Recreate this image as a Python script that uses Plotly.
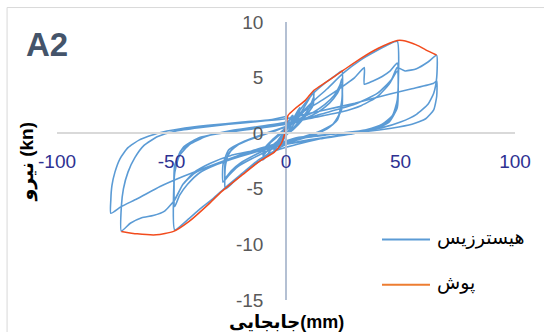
import plotly.graph_objects as go

# Axis ticks
x_ticks = [-100, -50, 0, 50, 100]
x_tick_labels = ["-100", "-50", "0", "50", "100"]
y_ticks = [-15, -10, -5, 0, 5, 10]
y_tick_labels = ["-15", "-10", "-5", "0", "5", "10"]

# Series names
series_names = ["هیسترزیس", "پوش"]

# Cyclic (hysteresis) response: displacement (mm) and force (kN), cycle by cycle
hyst_disp = [
    # cycle 1
    0, 1, 2, 3, 2.8, 1.5, 0, -1.5, -3, -2.8, -1.5, 0,
    # cycle 2
    2, 4, 6, 5.7, 4, 1, -2, -4, -5.2, -4.9, -3, 0,
    # cycle 3
    3, 6, 9, 12.2, 11.8, 9, 5, 0, -4, -7, -10, -9.6, -7, -3, 0,
    # cycle 4
    4, 8, 11, 12.2, 11.8, 8, 3, -3, -7, -10, -9.6, -6, 0,
    # cycle 5
    4, 8, 12, 17, 21, 24.4, 24.4, 23, 20, 14, 6, 0, -5, -10, -15, -20, -24, -26.5,
    -26.5, -25, -20, -12, -5, 0,
    # cycle 6
    6, 12, 17, 21, 23.5, 24.4, 24.4, 22.5, 18, 10, 0, -8, -15, -21, -25, -27.5,
    -27.5, -25, -18, -10, 0,
    # cycle 7
    7, 14, 19, 22.5, 24.4, 24.4, 21, 14, 5, -5, -13, -20, -24, -26.5,
    -26.5, -23, -15, -5, 0,
    # cycle 8
    6, 12, 18, 25, 32.7, 40.3, 45, 48.6, 48.6, 46.5, 42, 35, 25, 15, 5, -5, -12, -19,
    -26, -32, -38, -43, -48.6, -48.6, -46.5, -42, -35, -25, -12, 0,
    # cycle 9
    8, 16, 24, 30, 34.2, 34.2, 38, 42, 45.5, 48.6, 48.6, 46, 40, 30, 20, 10, 0, -10,
    -20, -30, -38, -43, -46.5, -48.6, -48.6, -46, -40, -30, -15, 0,
    # cycle 10
    12, 24, 33, 40, 45, 48.6, 48.6, 45, 38, 28, 15, 0, -12, -24, -33, -40, -45, -48.6,
    -48.6, -45, -38, -25, -10, 0,
    # cycle 11
    15, 30, 40, 46, 48.6, 52, 57, 62, 65.8, 65.8, 64.5, 62, 57, 50, 42, 32, 20, 8, 0,
    -10, -20, -30, -40, -45, -48.6, -53, -58, -63, -68, -71.9,
    -71.9, -71, -69, -66, -62, -56, -48, -38, -25, -10, 0,
    # cycle 12
    15, 30, 45, 55, 64.5, 65.8, 65.8, 64.5, 61, 55, 46, 35, 20, 5, 0, -15, -30, -45,
    -55, -65, -72, -76.5, -76.5, -76, -74.7, -72.5, -69, -64, -56, -46, -34, -19, -7, 0,
]
hyst_force = [
    # cycle 1
    0, 0.9, 1.4, 1.6, 1.1, 0.4, -0.2, -0.7, -1.1, -0.7, -0.3, 0.2,
    # cycle 2
    0.8, 1.6, 2.3, 1.7, 1.0, 0.1, -0.6, -1.2, -1.7, -1.1, -0.5, 0.3,
    # cycle 3
    1.0, 1.7, 2.7, 3.8, 2.9, 1.9, 0.9, -0.2, -0.9, -1.6, -2.4, -1.7, -0.9, -0.2, 0.4,
    # cycle 4
    1.1, 2.0, 2.7, 3.3, 2.5, 1.4, 0.3, -0.6, -1.3, -2.0, -1.4, -0.6, 0.5,
    # cycle 5
    1.5, 2.6, 3.6, 4.5, 5.1, 5.6, 3.0, 1.6, 0.7, 0.1, -0.5, -1.0, -1.6, -2.3, -3.0, -3.8, -4.6, -5.0,
    -3.0, -1.8, -0.9, -0.3, 0.2, 0.6,
    # cycle 6
    1.3, 1.9, 2.6, 3.4, 4.3, 4.9, 2.6, 1.2, 0.4, -0.3, -0.9, -1.6, -2.3, -3.0, -3.8, -4.4,
    -2.8, -1.5, -0.7, -0.1, 0.6,
    # cycle 7
    1.2, 1.9, 2.7, 3.6, 4.4, 2.2, 0.9, 0.1, -0.5, -1.1, -1.9, -2.7, -3.4, -4.0,
    -2.5, -1.3, -0.5, 0.2, 0.6,
    # cycle 8
    1.7, 2.9, 4.0, 5.4, 6.6, 7.5, 8.0, 8.25, 3.0, 1.6, 0.8, 0.3, -0.1, -0.5, -1.0, -1.6, -2.4, -3.6,
    -4.8, -5.9, -6.9, -7.8, -8.7, -3.6, -2.0, -1.0, -0.3, 0.2, 0.6, 1.0,
    # cycle 9
    2.0, 3.0, 4.1, 5.0, 5.9, 4.4, 4.7, 5.1, 5.6, 6.3, 2.6, 1.3, 0.5, 0.0, -0.3, -0.6, -1.0, -1.5,
    -2.1, -2.8, -3.6, -4.6, -5.6, -6.6, -3.2, -1.6, -0.6, 0.0, 0.4, 0.9,
    # cycle 10
    1.4, 1.9, 2.5, 3.3, 4.4, 5.6, 2.3, 1.0, 0.3, -0.1, -0.5, -1.0, -1.5, -2.0, -2.7, -3.5, -4.6, -5.9,
    -2.9, -1.3, -0.4, 0.1, 0.5, 0.8,
    # cycle 11
    1.7, 2.6, 3.6, 4.8, 5.9, 5.6, 5.8, 6.4, 7.0, 5.0, 3.6, 2.6, 1.7, 1.0, 0.5, 0.2, -0.1, -0.4, -0.7,
    -1.3, -2.0, -2.7, -3.6, -4.6, -6.0, -7.0, -7.4, -7.6, -8.1, -8.8,
    -6.6, -5.0, -3.5, -2.2, -1.1, -0.3, 0.2, 0.5, 0.8, 1.1, 1.3,
    # cycle 12
    2.0, 2.7, 3.5, 4.0, 4.5, 4.7, 3.3, 2.1, 1.3, 0.8, 0.45, 0.15, -0.1, -0.4, -0.7, -1.6, -2.7, -3.9,
    -4.8, -5.9, -6.6, -7.2, -6.0, -4.7, -3.5, -2.3, -1.3, -0.6, 0.0, 0.4, 0.7, 1.0, 1.2, 1.5,
]

# Backbone (envelope) curve
env_disp = [-71.9, -65, -56.7, -49.1, -42.3, -34.0, -27.9, -18.8, -11.3, -5.2, -2.2, -0.6,
            0.9, 3.9, 8.4, 12.2, 17.5, 25.1, 32.7, 40.3, 48.6, 50.9, 56.9, 61, 65.7]
env_force = [-8.83, -9.05, -9.14, -8.83, -7.93, -6.42, -5.21, -3.7, -2.49, -1.73, -0.98, -0.07,
             1.6, 2.2, 2.95, 3.86, 4.6, 5.67, 6.73, 7.64, 8.34, 8.34, 7.94, 7.5, 7.03]

BLUE = "#5b9bd5"
RED = "#f24b1d"
ORANGE = "#ed7d31"
FONT = "Liberation Sans, DejaVu Sans, sans-serif"

fig = go.Figure()
fig.add_trace(go.Scatter(
    x=hyst_disp, y=hyst_force, mode="lines", name=series_names[0],
    line=dict(color=BLUE, width=1.6, shape="spline", smoothing=0.5),
))
fig.add_trace(go.Scatter(
    x=env_disp, y=env_force, mode="lines", name=series_names[1],
    line=dict(color=RED, width=1.5, shape="spline", smoothing=0.6),
))

# chart-area border
fig.add_shape(type="rect", xref="paper", yref="paper",
              x0=-0.109, x1=1.3, y0=-0.3, y1=1.052,
              line=dict(color="#d9d9d9", width=1), fillcolor="rgba(0,0,0,0)")

# legend (line sample + label) at the lower right
legend_rows = [(0.2178, BLUE), (0.0546, ORANGE)]
for name, (ly, col) in zip(series_names, legend_rows):
    fig.add_shape(type="line", xref="paper", yref="paper",
                  x0=0.7096, x1=0.8144, y0=ly, y1=ly,
                  line=dict(color=col, width=2))
    fig.add_annotation(text=name, xref="paper", yref="paper", x=0.825, y=ly + 0.005,
                       xanchor="left", yanchor="middle", showarrow=False,
                       font=dict(family=FONT, size=19, color="#000000"))

fig.add_annotation(text="<b>A2</b>", xref="paper", yref="paper", x=-0.022, y=0.918,
                   xanchor="center", yanchor="middle",
                   showarrow=False, font=dict(family=FONT, size=33, color="#44546a"))
fig.add_annotation(text="<b>نیرو (kn)</b>", xref="paper", yref="paper", x=-0.0644, y=0.496,
                   xanchor="center", yanchor="middle",
                   textangle=-90, showarrow=False, font=dict(family=FONT, size=19, color="#000000"))
fig.add_annotation(text="<b>جابجایی(mm)</b>", xref="paper", yref="paper", x=0.5, y=-0.079,
                   xanchor="center", yanchor="middle",
                   showarrow=False, font=dict(family=FONT, size=18, color="#000000"))

fig.update_layout(
    width=544, height=332,
    margin=dict(l=57, r=29, t=22, b=32),
    paper_bgcolor="white", plot_bgcolor="white",
    showlegend=False,
    xaxis=dict(
        range=[-100, 100], tickvals=x_ticks, ticktext=x_tick_labels,
        anchor="free", position=0.6, showline=True, linecolor="#d9d9d9", linewidth=2,
        ticks="outside", ticklen=11, tickcolor="rgba(0,0,0,0)",
        showgrid=False, zeroline=False, automargin=False,
        tickfont=dict(family=FONT, size=19, color="#2e3192"),
    ),
    yaxis=dict(
        range=[-15, 10], tickvals=y_ticks, ticktext=y_tick_labels,
        anchor="free", position=0.5, showline=True, linecolor="#b4c0d3", linewidth=1.5,
        ticks="outside", ticklen=18, tickcolor="rgba(0,0,0,0)",
        showgrid=False, zeroline=False, automargin=False,
        tickfont=dict(family=FONT, size=19, color="#595959"),
    ),
)

fig.write_html("out.html")
